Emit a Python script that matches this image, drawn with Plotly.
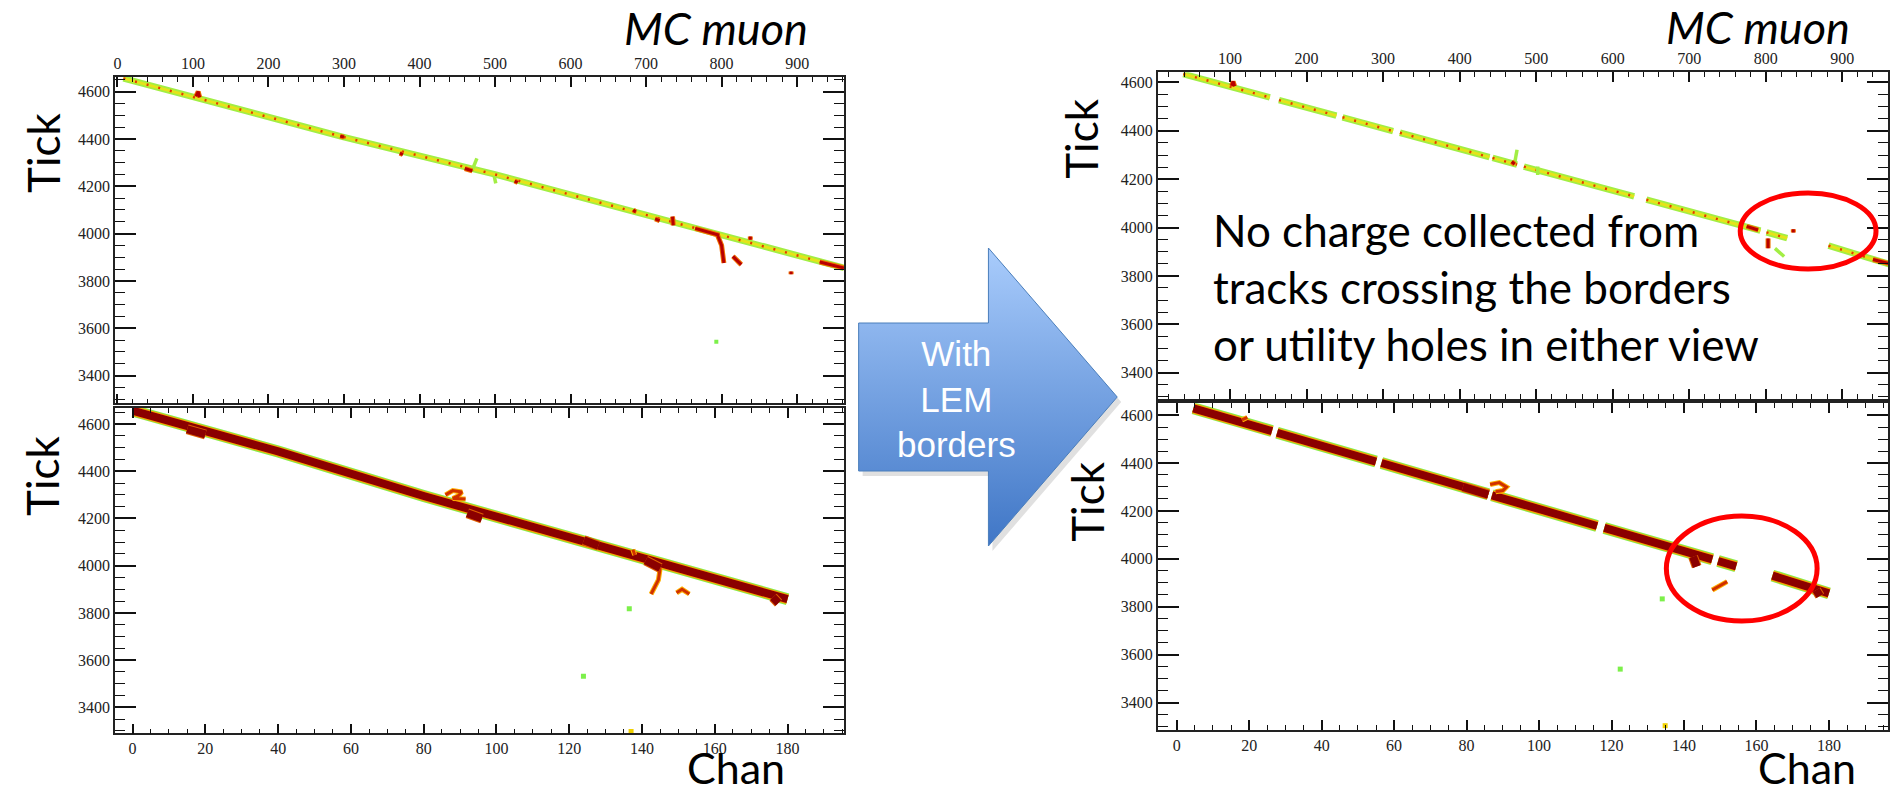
import plotly.graph_objects as go

W, H = 1890, 792

# ---------------- data ----------------
# top-left: collection view, full readout
tl_track_chan = [8, 297, 500, 683, 801, 962]
tl_track_tick = [4656, 4410, 4250, 4094, 3995, 3855]
tl_red_chan = [104, 107, 109, None, 295, 300, None, 374, 378, None, 460, 470, None, 526, 530, None,
               683, 686, None, 712, 718, None, 735, 736, None, 765, 797, None, 795, 800, 803, None,
               815, 821, 826, None, 838, 838, None, 892, 892, None, 930, 962]
tl_red_tick = [4580, 4600, 4576, None, 4412, 4408, None, 4340, 4334, None, 4275, 4265, None, 4222, 4216, None,
               4100, 4092, None, 4062, 4055, None, 4072, 4035, None, 4022, 3993, None, 3990, 3950, 3876, None,
               3904, 3886, 3869, None, 3988, 3974, None, 3840, 3828, None, 3880, 3855]
tl_green_chan = [470, 476, None, 499, 501]
tl_green_tick = [4270, 4318, None, 4242, 4212]
tl_dot_chan = [793]
tl_dot_tick = [3543]

# bottom-left: induction view, full readout
bl_track_chan = [0.2, 40, 80, 139, 180]
bl_track_tick = [4656, 4484, 4295, 4035, 3858]
bl_dark_chan = [15, 20, None, 92, 96, None, 124, 128, None, 141, 145, None, 176, 177.5]
bl_dark_tick = [4578, 4556, None, 4222, 4200, None, 4108, 4085, None, 4022, 3990, None, 3866, 3842]
bl_orange_chan = [86, 88, 90.5, 89.5, 88, 91.5, None, 137.5, 138, None, 145, 144.5, 142.5, None,
                  149.5, 151, 153]
bl_orange_tick = [4300, 4318, 4312, 4296, 4285, 4282, None, 4068, 4045, None, 3990, 3940, 3880, None,
                  3885, 3900, 3880]
bl_dot_chan = [136.5, 123.9, 137]
bl_dot_tick = [3818, 3532, 3298]
bl_dot_color = ["#7cf04a", "#7cf04a", "#f0d000"]

# top-right: collection view with LEM borders
tr_track_chan = [39, 152, None, 164, 239, None, 247, 313, None, 322, 439, None, 443, 475, None,
                 484, 628, None, 644, 793, None, 801, 828, None, 882, 962]
tr_track_tick = [4635, 4538, None, 4527, 4463, None, 4456, 4399, None, 4392, 4291, None, 4288, 4260, None,
                 4252, 4129, None, 4115, 3987, None, 3980, 3956, None, 3925, 3848]
tr_red_chan = [102, 104, 106, None, 468, 472, None, 775, 790, None, 836, 836, None, 803, 803, None, 940, 960]
tr_red_tick = [4586, 4604, 4584, None, 4272, 4262, None, 4005, 3990, None, 3993, 3980, None, 3955, 3914, None,
               3868, 3852]
tr_green_chan = [472, 475, None, 502, 502, None, 812, 824]
tr_green_tick = [4268, 4322, None, 4252, 4217, None, 3914, 3880]

# bottom-right: induction view with LEM borders
br_track_chan = [4.6, 26.3, None, 27.7, 55, None, 56.5, 86, None, 87, 116, None, 118, 147.8, None,
                 149.4, 154.4, None, 164.4, 180]
br_track_tick = [4628, 4533, None, 4526, 4406, None, 4400, 4270, None, 4265, 4137, None, 4129, 3998, None,
                 3991, 3969, None, 3930, 3856]
br_dark_chan = [79, 86, None, 142.5, 143.5, None, 176.5, 177.5]
br_dark_tick = [4300, 4268, None, 4009, 3968, None, 3870, 3845]
br_orange_chan = [18, 19.5, None, 86.5, 89, 91, 90, 88, None, 147.8, 150, 151.9]
br_orange_tick = [4580, 4590, None, 4310, 4318, 4300, 4285, 4280, None, 3870, 3890, 3905]
br_dot_chan = [134, 122.4, 134.8]
br_dot_tick = [3833, 3540, 3304]
br_dot_color = ["#7cf04a", "#7cf04a", "#f0d000"]

# decorations (pixel positions on the slide)
arrow_x = [858, 988, 988, 1117, 988, 988, 858, 858]
arrow_y = [323, 323, 248, 397, 546, 471, 471, 323]

fig = go.Figure()


def add_line(x, y, xa, ya, color, width, dash=None):
    fig.add_trace(go.Scatter(x=x, y=y, mode="lines", xaxis=xa, yaxis=ya,
                             line=dict(color=color, width=width, dash=dash),
                             showlegend=False, hoverinfo="skip", connectgaps=False))


def add_dots(x, y, xa, ya, color, size=5):
    fig.add_trace(go.Scatter(x=x, y=y, mode="markers", xaxis=xa, yaxis=ya,
                             marker=dict(color=color, size=size, symbol="square", line=dict(width=0)),
                             showlegend=False, hoverinfo="skip"))


def thin_track(chan, tick, red_c, red_t, green_c, green_t, xa, ya):
    add_line(chan, tick, xa, ya, "#a2ee44", 6.5)
    add_line(chan, tick, xa, ya, "#e4e41a", 3)
    add_line(chan, tick, xa, ya, "#e23a00", 2.5, "2px,10px")
    add_line(green_c, green_t, xa, ya, "#a2ee44", 3.5)
    add_line(red_c, red_t, xa, ya, "#f07000", 5)
    add_line(red_c, red_t, xa, ya, "#b80000", 3)


def thick_track(chan, tick, dark_c, dark_t, or_c, or_t, xa, ya):
    add_line(chan, tick, xa, ya, "#86ee48", 12)
    add_line(chan, tick, xa, ya, "#ff9a00", 10)
    add_line(chan, tick, xa, ya, "#8b0000", 8)
    add_line(or_c, or_t, xa, ya, "#ffb000", 5)
    add_line(or_c, or_t, xa, ya, "#d03000", 3)
    add_line(dark_c, dark_t, xa, ya, "#e06000", 10)
    add_line(dark_c, dark_t, xa, ya, "#8b0000", 8)


thin_track(tl_track_chan, tl_track_tick, tl_red_chan, tl_red_tick, tl_green_chan, tl_green_tick, "x", "y")
add_dots(tl_dot_chan, tl_dot_tick, "x", "y", "#7cf04a", 4)
thick_track(bl_track_chan, bl_track_tick, bl_dark_chan, bl_dark_tick, bl_orange_chan, bl_orange_tick, "x2", "y2")
add_dots(bl_dot_chan, bl_dot_tick, "x2", "y2", bl_dot_color, 5)
thin_track(tr_track_chan, tr_track_tick, tr_red_chan, tr_red_tick, tr_green_chan, tr_green_tick, "x3", "y3")
thick_track(br_track_chan, br_track_tick, br_dark_chan, br_dark_tick, br_orange_chan, br_orange_tick, "x4", "y4")
add_dots(br_dot_chan, br_dot_tick, "x4", "y4", br_dot_color, 5)

# arrow (shadow + gradient body) on a full-slide pixel axis
fig.add_trace(go.Scatter(x=[v + 4 for v in arrow_x], y=[v + 5 for v in arrow_y], xaxis="x5", yaxis="y5",
                         mode="lines", fill="toself", fillcolor="rgba(0,0,0,0.12)",
                         line=dict(width=0), showlegend=False, hoverinfo="skip"))
fig.add_trace(go.Scatter(x=arrow_x, y=arrow_y, xaxis="x5", yaxis="y5", mode="lines", fill="toself",
                         fillgradient=dict(type="vertical", colorscale=[[0, "#a9ccfc"], [1, "#3f76c6"]],
                                           start=248, stop=546),
                         line=dict(color="#4a7ebb", width=1), showlegend=False, hoverinfo="skip"))

tickfont = dict(family="Liberation Serif", size=16, color="#222")


def xax(domain, rng, dtick, minor, side):
    return dict(domain=domain, range=rng, side=side, ticks="inside", ticklen=10, tickwidth=1.5,
                tickcolor="#111", dtick=dtick, tick0=0, showline=True, linewidth=1.6, linecolor="#222",
                mirror="allticks", showgrid=False, zeroline=False, tickfont=tickfont,
                minor=dict(ticks="inside", ticklen=5, dtick=minor, tickwidth=1.2, tickcolor="#111",
                           showgrid=False),
                fixedrange=True)


def yax(domain, rng, anchor):
    return dict(domain=domain, range=rng, anchor=anchor, ticks="inside", ticklen=21, tickwidth=1.5,
                tickcolor="#111", dtick=200, tick0=0, showline=True, linewidth=1.6, linecolor="#222",
                mirror="allticks", showgrid=False, zeroline=False, tickfont=tickfont,
                minor=dict(ticks="inside", ticklen=10.5, dtick=50, tickwidth=1.2, tickcolor="#111",
                           showgrid=False),
                fixedrange=True)


def px_x(a, b):
    return [a / W, b / W]


def px_y(top, bottom):
    return [1 - bottom / H, 1 - top / H]


layout = dict(
    width=W, height=H, margin=dict(l=0, r=0, t=0, b=0),
    paper_bgcolor="white", plot_bgcolor="rgba(0,0,0,0)", showlegend=False,
    xaxis=dict(xax(px_x(113.3, 843.3), [-3, 962], 100, 20, "top"), anchor="y"),
    yaxis=yax(px_y(76.7, 403.3), [3283, 4663], "x"),
    xaxis2=dict(xax(px_x(113.3, 843.3), [-4.8, 195.5], 20, 5, "bottom"), anchor="y2"),
    yaxis2=yax(px_y(408, 733.3), [3290, 4668], "x2"),
    xaxis3=dict(xax(px_x(1157.7, 1889), [5.7, 959.7], 100, 20, "top"), anchor="y3"),
    yaxis3=yax(px_y(72.3, 398.5), [3293, 4642], "x3"),
    xaxis4=dict(xax(px_x(1157.7, 1889), [-5.2, 196.3], 20, 5, "bottom"), anchor="y4"),
    yaxis4=yax(px_y(403.3, 730), [3286, 4649], "x4"),
    xaxis5=dict(domain=[0, 1], range=[0, W], visible=False, fixedrange=True, anchor="y5"),
    yaxis5=dict(domain=[0, 1], range=[H, 0], visible=False, fixedrange=True, anchor="x5"),
)
fig.update_layout(**layout)

ann = []


def add_text(text, x, y, size=44, angle=0, color="black", family="Lato", xanchor="center",
             yanchor="middle", align="center"):
    ann.append(dict(text=text, x=x / W, y=1 - y / H, xref="paper", yref="paper", showarrow=False,
                    textangle=angle, xanchor=xanchor, yanchor=yanchor, align=align, borderpad=0,
                    font=dict(family=family, size=size, color=color)))


add_text("Tick", 40.5, 152.5, angle=-90)
add_text("Tick", 40, 476, angle=-90)
add_text("Tick", 1081, 138.5, angle=-90)
add_text("Tick", 1086, 501.5, angle=-90)
add_text("Chan", 735, 767, size=43)
add_text("Chan", 1808, 767, size=43)
add_text("<i>MC muon</i>", 715, 28, size=45)
add_text("<i>MC muon</i>", 1759, 27, size=45)
add_text("No charge collected from<br>tracks crossing the borders<br>or utility holes in either view",
         1212, 203, size=44, xanchor="left", yanchor="top", align="left")
add_text("With<br>LEM<br>borders", 955.8, 399, size=35, color="white", family="Liberation Sans")
fig.update_layout(annotations=ann)

fig.update_layout(shapes=[
    dict(type="circle", xref="paper", yref="paper", x0=1741 / W, x1=1877 / W, y0=1 - 269 / H, y1=1 - 193 / H,
         line=dict(color="#ff0000", width=5)),
    dict(type="circle", xref="paper", yref="paper", x0=1667 / W, x1=1818 / W, y0=1 - 621 / H, y1=1 - 516 / H,
         line=dict(color="#ff0000", width=5)),
])

fig.write_html("out.html")
